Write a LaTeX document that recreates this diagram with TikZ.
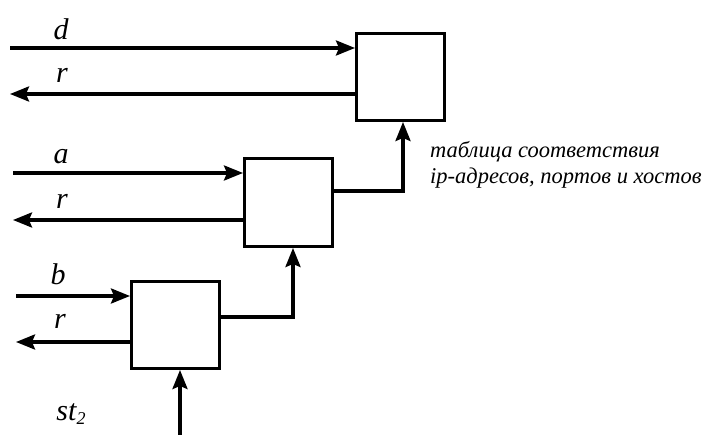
\documentclass[tikz,border=0pt]{standalone}
\usepackage{fontspec}
\setmainfont{Liberation Serif}
\usetikzlibrary{arrows.meta}
\begin{document}
\begin{tikzpicture}[x=1pt,y=-1pt,
  blk/.style={draw,line width=3pt,minimum width=88pt,minimum height=88pt,inner sep=0pt,anchor=north west},
  conn/.style={line width=3.3pt,-{Stealth[length=19pt,width=15pt,inset=3pt]}},
  lbl/.style={font=\itshape\fontsize{30}{30}\selectfont,inner sep=0pt},
  note/.style={font=\itshape\fontsize{22.5}{26}\selectfont,align=left,inner sep=0pt,anchor=north west}]
\useasboundingbox (0,0) rectangle (706,435);
% boxes
\node[blk,minimum width=88pt,minimum height=87pt] (B1) at (355,32) {};
\node[blk,minimum width=88pt,minimum height=88pt] (B2) at (243,157) {};
\node[blk,minimum width=88pt,minimum height=87pt] (B3) at (130,280) {};
% free ends
\coordinate (d0) at (10,48);
\coordinate (r1) at (10,94);
\coordinate (a0) at (13,173);
\coordinate (r2) at (13,220);
\coordinate (b0) at (16,296);
\coordinate (r3) at (16,342);
\coordinate (s0) at (180,435);
% top
\draw[conn] (d0) -- (d0 -| B1.west);
\draw[conn] (r1 -| B1.west) -- (r1);
% middle
\draw[conn] (a0) -- (a0 -| B2.west);
\draw[conn] (r2 -| B2.west) -- (r2);
\draw[conn] (B2.east |- 0,191) -| (403,0 |- B1.south);
% bottom
\draw[conn] (b0) -- (b0 -| B3.west);
\draw[conn] (r3 -| B3.west) -- (r3);
\draw[conn] (B3.east |- 0,317) -| (293,0 |- B2.south);
\draw[conn] (s0) -- (s0 |- B3.south);
% labels
\node[lbl] (ld) at (61,29) {d};
\node[lbl] (lr1) at (62,75) {r};
\node[lbl] (la) at (61,157) {a};
\node[lbl] (lr2) at (62,201) {r};
\node[lbl] (lb) at (58,274) {b};
\node[lbl] (lr3) at (60,321) {r};
\node[lbl] (lst) at (71,414) {st\raisebox{-0.35ex}{\fontsize{18}{18}\selectfont 2}};
\node[note] (nt) at (430,141) {таблица соответствия\\ip-адресов, портов и хостов};
\end{tikzpicture}
\end{document}
